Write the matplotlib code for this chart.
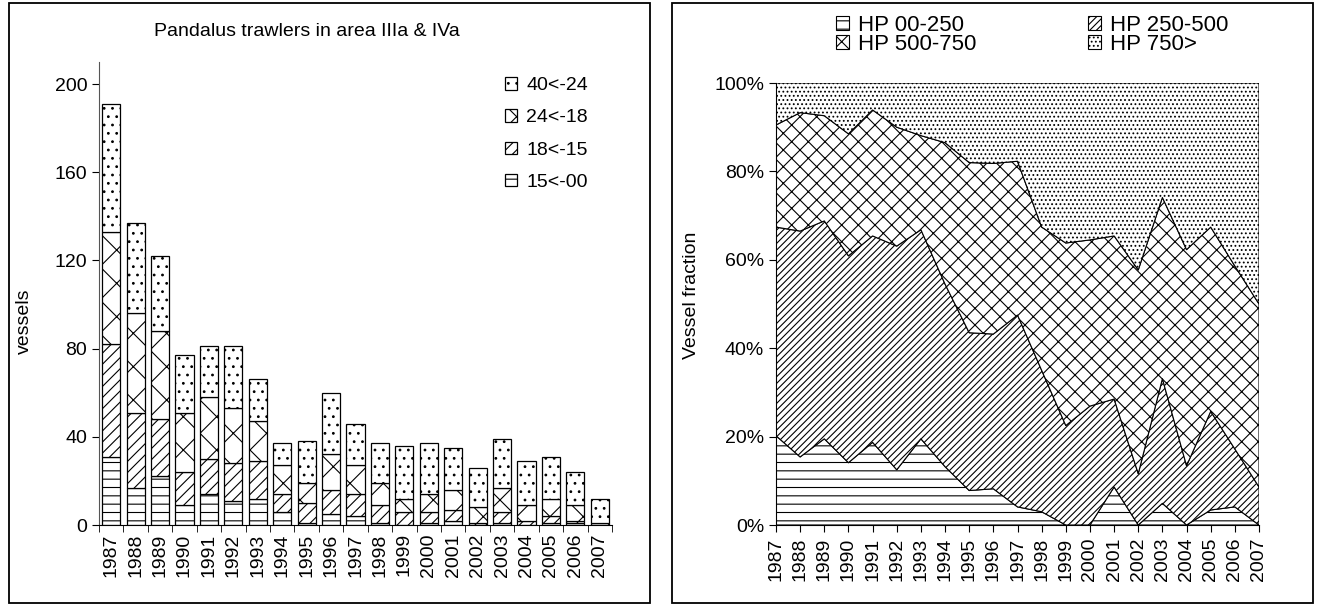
import matplotlib
matplotlib.use("Agg")
import matplotlib.pyplot as plt
import numpy as np
from matplotlib.patches import Rectangle

plt.rcParams['font.family'] = ['Liberation Sans', 'DejaVu Sans']
plt.rcParams['hatch.linewidth'] = 0.8
plt.rcParams['hatch.color'] = 'black'

years = [str(y) for y in range(1987, 2008)]

# left chart: vessels by length class (m)
len_15_00 = [31, 17, 22, 9, 14, 11, 12, 6, 1, 5, 4, 1, 0, 1, 2, 0, 1, 0, 1, 1, 0]
len_18_15 = [51, 34, 26, 15, 16, 17, 17, 8, 9, 11, 10, 8, 6, 5, 5, 1, 5, 2, 3, 1, 0]
len_24_18 = [51, 45, 40, 27, 28, 25, 18, 13, 9, 16, 13, 10, 6, 8, 9, 7, 11, 7, 8, 7, 1]
len_40_24 = [58, 41, 34, 26, 23, 28, 19, 10, 19, 28, 19, 18, 24, 23, 19, 18, 22, 20, 19, 15, 11]

# right chart: cumulative fractions (%) by engine power
hp_cum1 = [20.2, 15.4, 19.5, 14.1, 18.7, 12.5, 19.5, 13.2, 7.8, 8.2, 4.1, 3.0, 0, 0, 8.6, 0, 4.9, 0, 3.4, 4.1, 0]
hp_cum2 = [67.4, 66.5, 68.8, 60.9, 65.4, 63.1, 66.8, 54.5, 43.5, 43.2, 47.5, 35.0, 22.5, 26.9, 28.5, 11.6, 33.1, 13.4, 25.7, 17.2, 8.6]
hp_cum3 = [90.5, 93.3, 92.6, 88.5, 93.9, 90.0, 88.1, 86.5, 82.0, 81.8, 82.3, 67.4, 63.8, 64.5, 65.4, 57.7, 74.1, 62.3, 67.4, 58.6, 50.0]

W, H = 1322, 609
fig = plt.figure(figsize=(W / 100, H / 100), dpi=100)


def fx(px):
    return px / W


def fy(py):
    return 1 - py / H


# panel frames
for x0, x1 in [(9, 650), (672, 1313)]:
    fig.add_artist(Rectangle((fx(x0), fy(603)), fx(x1) - fx(x0), fy(3) - fy(603),
                             transform=fig.transFigure, fill=False, lw=1.3, ec='black'))

# ---------- left: stacked bars ----------
ax1 = fig.add_axes([fx(99), fy(525), fx(612) - fx(99), fy(62) - fy(525)])
x = np.arange(len(years))
series = [len_15_00, len_18_15, len_24_18, len_40_24]
labels = ['15<-00', '18<-15', '24<-18', '40<-24']
hatches = ['--', '///', 'x', '..']
bottom = np.zeros(len(years))
bars = []
for vals, lab, h in zip(series, labels, hatches):
    b = ax1.bar(x, vals, 0.74, bottom=bottom, color='white', edgecolor='black',
                linewidth=0.9, hatch=h, label=lab)
    bars.append(b)
    bottom += np.array(vals)

ax1.set_xlim(-0.5, len(years) - 0.5)
ax1.set_ylim(0, 210)
ax1.set_yticks(range(0, 201, 40))
ax1.set_xticks(x)
ax1.set_xticklabels(years, rotation=90, fontsize=14)
ax1.set_xticks(np.arange(-0.5, len(years)), minor=True)
ax1.tick_params(axis='x', which='major', length=0, pad=6)
ax1.tick_params(axis='x', which='minor', length=5, direction='out')
ax1.tick_params(axis='y', labelsize=14, length=5, direction='out')
for s in ['top', 'right']:
    ax1.spines[s].set_visible(False)
ax1.spines['left'].set_color('#555555')
ax1.set_ylabel('vessels', fontsize=14)
ax1.yaxis.set_label_coords(-0.128, 0.44)

leg1 = ax1.legend(handles=bars[::-1], labels=labels[::-1], loc='upper left',
                  bbox_to_anchor=(0.757, 1.005), frameon=False, fontsize=14,
                  handlelength=0.6, handleheight=0.6, handletextpad=0.5,
                  labelspacing=0.78)

fig.text(fx(307), fy(32), 'Pandalus trawlers in area IIIa & IVa', fontsize=14,
         ha='center', va='center')

# ---------- right: 100% stacked area ----------
ax2 = fig.add_axes([fx(776), fy(525), fx(1259) - fx(776), fy(83) - fy(525)])
c1 = np.array(hp_cum1)
c2 = np.array(hp_cum2)
c3 = np.array(hp_cum3)
layers = [c1, c2 - c1, c3 - c2, 100 - c3]
hp_labels = ['HP 00-250', 'HP 250-500', 'HP 500-750', 'HP 750>']
hp_hatches = ['--', '/////', 'xx', '....']
polys = ax2.stackplot(x, *layers, colors=['white'] * 4, edgecolor='black',
                      linewidth=0.8, labels=hp_labels)
for p, h in zip(polys, hp_hatches):
    p.set_hatch(h)

ax2.set_xlim(0, len(years) - 1)
ax2.set_ylim(0, 100)
ax2.set_yticks(range(0, 101, 20))
ax2.set_yticklabels([f'{v}%' for v in range(0, 101, 20)])
ax2.set_xticks(x)
ax2.set_xticklabels(years, rotation=90, fontsize=14)
ax2.tick_params(axis='x', length=5, direction='out', pad=4)
ax2.tick_params(axis='y', labelsize=14, length=5, direction='out')
for s in ['top', 'right']:
    ax2.spines[s].set_visible(False)
ax2.set_ylabel('Vessel fraction', fontsize=14)
ax2.yaxis.set_label_coords(-0.157, 0.52)

order = [0, 2, 1, 3]
fig.legend(handles=[polys[i] for i in order], labels=[hp_labels[i] for i in order],
           loc='upper left', bbox_to_anchor=(fx(816), fy(-5)), ncol=2,
           frameon=False, fontsize=16, handlelength=0.6, handleheight=0.6,
           handletextpad=0.4, labelspacing=-0.1, columnspacing=5.0)

fig.savefig('out.png', dpi=100)
